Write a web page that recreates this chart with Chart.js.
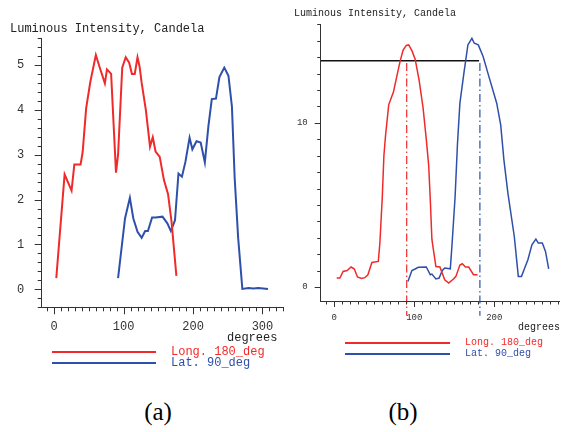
<!DOCTYPE html>
<html>
<head>
<meta charset="utf-8">
<script src="https://cdn.jsdelivr.net/npm/chart.js@4"></script>
<style>
  html, body { margin: 0; padding: 0; background: #fff; }
  #wrap { position: relative; width: 561px; height: 432px; overflow: hidden; background: #fff; }
  canvas { position: absolute; top: 0; }
  .t { position: absolute; font-family: "Liberation Mono", "DejaVu Sans Mono", monospace; white-space: pre; color: #222; }
  .lg { position: absolute; height: 2px; }
  .cap { position: absolute; font-family: "Liberation Serif", "Times New Roman", serif; font-size: 25px; line-height: 28px; color: #000; transform: translateX(-50%); }
</style>
</head>
<body>
<div id="wrap">
  <canvas id="ca" width="290" height="370" style="left:0px"></canvas>
  <canvas id="cb" width="271" height="370" style="left:290px"></canvas>

  <div class="t" style="left:10px; top:22px; font-size:12px; line-height:14px;">Luminous Intensity, Candela</div>
  <div class="t" style="left:227px; top:331px; font-size:12px; line-height:14px;">degrees</div>
  <div class="lg" style="left:52px; top:351px; width:104px; background:#f02a2a;"></div>
  <div class="t" style="left:171px; top:345px; font-size:12px; line-height:14px; color:#f02a2a;">Long. 180_deg</div>
  <div class="lg" style="left:52px; top:362px; width:104px; background:#2f50aa;"></div>
  <div class="t" style="left:171px; top:356px; font-size:12px; line-height:14px; color:#2f50aa;">Lat. 90_deg</div>

  <div class="t" style="left:294px; top:8px; font-size:10px; line-height:12px;">Luminous Intensity, Candela</div>
  <div class="t" style="left:518px; top:322px; font-size:10px; line-height:12px;">degrees</div>
  <div class="lg" style="left:345px; top:342px; width:105px; background:#f02a2a;"></div>
  <div class="t" style="left:465px; top:337px; font-size:10px; line-height:12px; color:#f02a2a;">Long. 180_deg</div>
  <div class="lg" style="left:345px; top:353px; width:105px; background:#2f50aa;"></div>
  <div class="t" style="left:465px; top:348px; font-size:10px; line-height:12px; color:#2f50aa;">Lat. 90_deg</div>

  <div class="cap" style="left:158px; top:398px;">(a)</div>
  <div class="cap" style="left:403px; top:398px;">(b)</div>
</div>
<script>
// ---------- Chart (a) data ----------
const redA_deg = [3,15,25,29,38,41,46,52,60,65,73,76,82,89,92,98,103,108,112,116,120,123,126,132,138,142,146,152,158,164,169,176];
const redA_val = [0.25,2.56,2.2,2.78,2.78,3.06,4.03,4.62,5.22,4.97,4.59,4.9,4.8,2.6,3.0,4.94,5.17,5.05,4.8,4.8,5.17,4.96,4.6,4.0,3.18,3.39,3.07,2.95,2.44,2.12,1.51,0.3];
const blueA_deg = [92,102,109,114,120,126,131,135,141,146,156,163,168,174,179,184,189,195,199,205,211,217,222,227,233,238,245,251,256,260,265,271,280,287,294,301,308];
const blueA_val = [0.25,1.58,2.04,1.58,1.28,1.15,1.3,1.3,1.6,1.6,1.62,1.47,1.3,1.54,2.58,2.51,2.84,3.38,3.12,3.3,3.27,2.83,3.62,4.24,4.25,4.73,4.94,4.76,4.07,2.47,1.14,0.01,0.03,0.02,0.03,0.02,0.01];

// ---------- Chart (b) data ----------
const redB_deg = [3,7,11,16,21,25,29,34,38,42,47,55,57,60,62,64,68,74,78,82,86,90,93,97,101,106,111,115,118,120,122,127,132,138,143,149,152,157,160,164,168,174,179];
const redB_val = [0.55,0.55,0.95,1.01,1.22,1.1,0.61,0.52,0.57,0.75,1.5,1.56,2.7,5.5,8.0,9.2,11.1,11.9,12.8,13.7,14.44,14.72,14.75,14.4,13.9,12.6,10.9,9.0,7.4,5.3,2.9,1.25,1.22,0.44,0.24,0.49,0.65,1.34,1.42,1.22,1.22,0.75,0.75];
const blueB_deg = [92,97,101,105,115,120,122,127,131,135,138,145,147,151,154,157,162,167,172,175,180,186,192,203,208,212,217,225,230,234,238,242,247,252,255,260,264,268];
const blueB_val = [0.34,1.01,1.1,1.2,1.22,0.75,0.79,0.49,0.55,1.01,1.16,1.11,2.47,5.5,8.76,11.2,13.03,14.75,15.15,14.85,14.75,14.04,13.03,11.2,9.88,7.75,5.72,3.08,0.65,0.65,1.16,1.66,2.57,2.92,2.68,2.68,2.17,1.1];

// reference marks in (b)
const refLevelB = 13.79;
const refLevelB_range = [-17, 181];
const refAngleRedB = 90.5;
const refAngleBlueB = 182;
const refVertRange = [13.65, -1.75];

// tick labels
const xLabelsA = ['0','100','200','300'];
const yLabelsA = ['0','1','2','3','4','5'];
const xLabelsB = ['0','100','200'];
const yLabelsB = ['0','10'];

const RED = '#f02a2a';
const BLUE = '#2f50aa';
const pts = (xs, ys) => xs.map((x, i) => ({x: x, y: ys[i]}));
const isMult = (v, m) => Math.abs(v / m - Math.round(v / m)) < 1e-6;

function makeTickPlugin(o) {
  return {
    id: 'customTicks',
    afterRender(chart) {
      const ctx = chart.ctx;
      for (let k = 0; k < 30; k++) ctx.restore();
      const xs = chart.scales.x, ys = chart.scales.y;
      const area = chart.chartArea;
      const r = chart.currentDevicePixelRatio || 1;
      ctx.save();
      ctx.setTransform(r, 0, 0, r, 0, 0);
      ctx.globalAlpha = 1;
      ctx.globalCompositeOperation = 'source-over';
      ctx.setLineDash([]);
      ctx.strokeStyle = '#333';
      ctx.lineWidth = 1;
      ctx.beginPath();
      xs.ticks.forEach(t => {
        const px = Math.round(xs.getPixelForValue(t.value)) + 0.5;
        const len = isMult(t.value, o.xMajor) ? o.majLen : o.minLen;
        ctx.moveTo(px, area.bottom);
        ctx.lineTo(px, area.bottom + len);
      });
      ys.ticks.forEach(t => {
        const py = Math.round(ys.getPixelForValue(t.value)) + 0.5;
        const len = isMult(t.value, o.yMajor) ? o.majLen : o.minLen;
        ctx.moveTo(area.left, py);
        ctx.lineTo(area.left - len, py);
      });
      ctx.stroke();
      ctx.restore();
    }
  };
}

function axis(opts) {
  return {
    type: 'linear',
    min: opts.min, max: opts.max,
    afterFit: opts.fit,
    grid: { display: true, drawOnChartArea: false, drawTicks: false },
    border: { display: true, color: '#333', width: 1 },
    ticks: {
      stepSize: opts.step,
      includeBounds: false,
      autoSkip: false,
      maxRotation: 0,
      padding: opts.pad,
      color: '#333',
      font: { family: 'Liberation Mono', size: opts.fs },
      callback: (v) => {
        if (!isMult(v, opts.major)) return '';
        const s = String(Math.round(v));
        return opts.labels.includes(s) ? s : '';
      }
    }
  };
}

const fitX = s => { s.height = 30; s.paddingLeft = 0; s.paddingRight = 0; };
const fitYA = s => { s.width = 41.7; s.paddingTop = 0; s.paddingBottom = 0; };
const fitYB = s => { s.width = 30.7; s.paddingTop = 0; s.paddingBottom = 0; };

new Chart(document.getElementById('ca'), {
  type: 'line',
  data: {
    datasets: [
      { data: pts(redA_deg, redA_val), borderColor: RED, borderWidth: 2, pointRadius: 0, tension: 0, fill: false },
      { data: pts(blueA_deg, blueA_val), borderColor: BLUE, borderWidth: 2, pointRadius: 0, tension: 0, fill: false }
    ]
  },
  options: {
    animation: false, responsive: false, maintainAspectRatio: false,
    layout: { padding: { top: 38, right: 6.7, bottom: 32.7, left: 0 } },
    plugins: { legend: { display: false }, tooltip: { enabled: false } },
    scales: {
      x: axis({ min: -18, max: 330, step: 10, major: 100, pad: 12.5, fs: 12, labels: xLabelsA, fit: fitX }),
      y: axis({ min: -0.4, max: 5.6, step: 0.2, major: 1, pad: 17.4, fs: 12, labels: yLabelsA, fit: fitYA })
    }
  },
  plugins: [makeTickPlugin({ xMajor: 100, yMajor: 1, majLen: 7, minLen: 4 })]
});

new Chart(document.getElementById('cb'), {
  type: 'line',
  data: {
    datasets: [
      { data: pts(redB_deg, redB_val), borderColor: RED, borderWidth: 1.5, pointRadius: 0, tension: 0, fill: false },
      { data: pts(blueB_deg, blueB_val), borderColor: BLUE, borderWidth: 1.5, pointRadius: 0, tension: 0, fill: false },
      { data: [{x: refLevelB_range[0], y: refLevelB}, {x: refLevelB_range[1], y: refLevelB}], borderColor: '#111', borderWidth: 1.5, pointRadius: 0, fill: false },
      { data: [{x: refAngleRedB, y: refVertRange[0]}, {x: refAngleRedB, y: refVertRange[1]}], borderColor: RED, borderWidth: 1.2, borderDash: [8, 3, 1.5, 3], pointRadius: 0, fill: false, clip: false },
      { data: [{x: refAngleBlueB, y: refVertRange[0]}, {x: refAngleBlueB, y: refVertRange[1]}], borderColor: BLUE, borderWidth: 1.2, borderDash: [8, 3, 1.5, 3], pointRadius: 0, fill: false, clip: false }
    ]
  },
  options: {
    animation: false, responsive: false, maintainAspectRatio: false,
    layout: { padding: { top: 24.4, right: 1.1, bottom: 39, left: 0 } },
    plugins: { legend: { display: false }, tooltip: { enabled: false } },
    scales: {
      x: axis({ min: -17, max: 282, step: 10, major: 100, pad: 11.6, fs: 9, labels: xLabelsB, fit: fitX }),
      y: axis({ min: -0.85, max: 16, step: 1, major: 10, pad: 13, fs: 9, labels: yLabelsB, fit: fitYB })
    }
  },
  plugins: [makeTickPlugin({ xMajor: 100, yMajor: 10, majLen: 6, minLen: 3.5 })]
});
</script>
</body>
</html>
